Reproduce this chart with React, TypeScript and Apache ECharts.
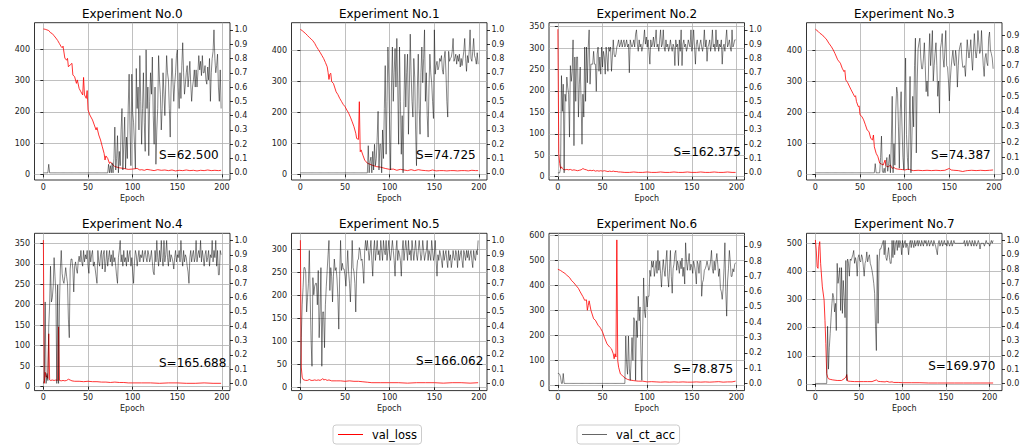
import { useEffect, useRef } from "react";
import * as echarts from "echarts";

const TITLES = [
  "Experiment No.0", "Experiment No.1", "Experiment No.2", "Experiment No.3",
  "Experiment No.4", "Experiment No.5", "Experiment No.6", "Experiment No.7",
];
const SCORES = ["S=62.500", "S=74.725", "S=162.375", "S=74.387", "S=165.688", "S=166.062", "S=78.875", "S=169.970"];
const SCORE_AT = [130, 50];

const X_TICKS = [0, 50, 100, 150, 200];
const LOSS_TICKS = [
  [0, 100, 200, 300, 400],
  [0, 100, 200, 300, 400],
  [0, 50, 100, 150, 200, 250, 300, 350],
  [0, 100, 200, 300, 400],
  [0, 50, 100, 150, 200, 250, 300, 350],
  [0, 50, 100, 150, 200, 250, 300],
  [0, 100, 200, 300, 400, 500, 600],
  [0, 100, 200, 300, 400, 500],
];
const ACC_TICKS_10 = [0, 0.1, 0.2, 0.3, 0.4, 0.5, 0.6, 0.7, 0.8, 0.9, 1.0];
const ACC_TICKS_09 = [0, 0.1, 0.2, 0.3, 0.4, 0.5, 0.6, 0.7, 0.8, 0.9];
const ACC_TICKS = [ACC_TICKS_10, ACC_TICKS_10, ACC_TICKS_10, ACC_TICKS_09, ACC_TICKS_10, ACC_TICKS_10, ACC_TICKS_09, ACC_TICKS_10];

const X_RANGE = [
  [-9.95, 208.95], [-9.95, 208.95], [-9.95, 208.95], [-9.95, 208.95],
  [-9.95, 208.95], [-9.95, 208.95], [-9.95, 208.95], [-10.2, 214.2],
];
const LOSS_RANGE = [
  [-18, 485], [-18.4, 490.6], [-7.7, 359.3], [-18.4, 490],
  [-9.8, 374.5], [-7.2, 335], [-23, 609.6], [-24, 535.7],
];
const ACC_RANGE = [
  [-0.05, 1.05], [-0.05, 1.05], [-0.05, 1.05], [-0.047, 0.981],
  [-0.05, 1.05], [-0.05, 1.05], [-0.047, 0.982], [-0.05, 1.05],
];

// val_loss: [epoch, value]
const LOSS_0 = [[0,465],[2,464],[4,462],[6,460],[8,453],[10,450],[12,443],[14,436],[16,428],[18,418],[20,408],[21,405],[22,410],[24,372],[26,365],[27,371],[28,344],[30,350],[32,355],[33,318],[35,312],[37,291],[38,302],[40,275],[42,264],[44,254],[45,310],[46,254],[48,243],[49,268],[50,206],[52,190],[55,174],[57,158],[59,142],[60,150],[62,126],[64,110],[66,88],[68,67],[69,46],[70,59],[72,51],[74,35],[75,40],[78,30],[80,25],[85,21],[90,19],[95,16],[100,17],[105,19],[108,14],[110,15],[113,13],[116,16],[120,14],[124,12],[128,15],[132,13],[136,14],[140,12],[144,14],[148,11],[152,13],[156,12],[160,14],[164,12],[168,13],[172,11],[176,13],[180,12],[184,14],[188,12],[192,13],[196,12],[199,13]];
const LOSS_1 = [[0,469],[2,465],[4,460],[6,455],[8,449],[10,443],[12,438],[14,432],[16,424],[18,413],[20,404],[22,395],[24,385],[26,375],[28,362],[30,348],[31,330],[32,307],[33,324],[34,327],[35,300],[37,294],[40,267],[42,258],[44,246],[46,236],[48,226],[50,219],[52,208],[54,198],[56,185],[58,170],[60,154],[62,133],[63,116],[65,113],[66,235],[67,73],[68,79],[70,62],[72,46],[75,36],[80,30],[85,25],[90,23],[95,19],[100,16],[104,17],[108,13],[112,16],[116,14],[120,12],[124,15],[128,12],[132,15],[136,13],[140,12],[144,11],[148,14],[152,11],[156,12],[160,12],[164,11],[168,12],[172,12],[176,11],[180,12],[184,12],[188,11],[192,13],[196,12],[199,12]];
const LOSS_2 = [[0,344],[1,54],[2,31],[3,19],[4,23],[5,19],[6,17],[8,16],[10,17],[12,16],[14,17],[16,15],[18,16],[20,15],[22,14],[24,15],[26,16],[28,19],[30,17],[32,16],[34,14],[36,15],[38,14],[40,15],[42,13],[44,14],[46,13],[48,14],[50,13],[52,14],[54,13],[56,12],[58,13],[60,12],[62,13],[64,12],[66,12],[68,11],[70,11],[75,10],[80,10],[85,11],[90,10],[95,10],[100,11],[105,10],[110,10],[115,11],[120,10],[125,10],[130,11],[135,10],[140,10],[145,11],[150,10],[155,10],[160,11],[165,10],[170,10],[175,11],[180,10],[185,10],[190,11],[195,10],[199,10]];
const LOSS_3 = [[0,469],[3,462],[5,456],[8,450],[10,443],[12,438],[15,424],[18,412],[20,402],[22,390],[25,370],[28,359],[30,343],[32,332],[33,336],[34,305],[36,297],[38,285],[40,273],[42,262],[44,251],[45,254],[46,235],[48,219],[49,221],[50,192],[52,187],[54,176],[56,160],[58,143],[60,138],[62,116],[64,111],[65,127],[66,89],[68,68],[70,57],[72,36],[74,33],[76,30],[78,46],[79,28],[80,25],[82,25],[84,30],[86,19],[88,22],[90,18],[92,17],[95,16],[98,15],[100,14],[103,16],[105,16],[108,13],[110,12],[115,13],[120,12],[125,13],[130,12],[135,13],[140,12],[145,13],[150,19],[152,14],[155,13],[160,12],[165,9],[168,11],[170,12],[175,13],[180,12],[185,13],[190,12],[195,13],[199,14]];
const LOSS_4 = [[0,358],[1,8],[2,35],[3,23],[4,27],[5,20],[6,129],[7,16],[8,15],[10,16],[12,15],[14,16],[16,15],[17,146],[18,15],[20,14],[22,15],[24,14],[26,15],[28,18],[30,16],[32,14],[35,13],[40,13],[45,12],[50,13],[55,12],[60,12],[65,11],[70,11],[75,10],[80,11],[85,10],[90,10],[95,9],[100,9],[110,9],[120,9],[130,8],[140,9],[150,9],[160,8],[170,8],[180,9],[190,8],[199,8]];
const LOSS_5 = [[0,320],[1,44],[2,22],[3,17],[4,16],[6,15],[8,15],[10,17],[12,15],[14,15],[16,16],[18,15],[20,16],[22,15],[24,17],[25,19],[26,16],[28,17],[30,15],[32,16],[35,14],[40,14],[45,14],[50,13],[55,14],[60,13],[65,13],[70,12],[75,11],[80,10],[90,10],[100,10],[110,10],[120,9],[130,10],[140,10],[150,10],[160,9],[170,10],[180,10],[190,9],[199,10]];
const LOSS_6 = [[0,465],[3,460],[5,455],[8,448],[10,441],[13,432],[15,421],[18,410],[20,401],[23,388],[25,374],[28,355],[30,340],[32,342],[33,300],[34,320],[35,338],[37,300],[40,266],[42,260],[45,240],[47,232],[48,226],[50,213],[52,192],[55,165],[58,152],[60,145],[62,125],[63,105],[64,125],[65,112],[66,583],[67,98],[68,71],[70,44],[72,38],[75,28],[78,22],[80,20],[85,17],[90,15],[95,15],[100,12],[105,13],[110,12],[115,11],[120,12],[125,11],[130,12],[135,11],[140,12],[145,11],[150,11],[155,12],[160,11],[165,12],[170,11],[175,12],[180,13],[185,11],[190,12],[195,12],[199,15]];
const LOSS_7 = [[0,512],[1,476],[2,417],[3,411],[4,488],[5,506],[6,429],[8,345],[10,298],[11,226],[12,143],[13,36],[14,24],[15,18],[17,16],[20,14],[25,12],[30,12],[33,18],[35,24],[36,33],[37,10],[40,9],[45,8],[50,8],[55,8],[60,8],[65,8],[70,14],[72,9],[75,8],[80,7],[82,9],[85,6],[88,7],[90,5],[95,5],[100,4],[110,4],[120,4],[130,3],[140,3],[150,3],[160,3],[170,3],[180,3],[190,3],[204,3]];

// val_ct_acc: one value per epoch, starting at epoch 0
const ACC_0 = [
  0,0,0,0,0,0,0.06,0,0,0,
  0,0,0,0,0,0,0,0,0,0,
  0,0,0,0,0,0,0,0,0,0,
  0,0,0,0,0,0,0,0,0,0,
  0,0,0,0,0,0,0,0,0,0,
  0,0,0,0,0,0,0,0,0,0,
  0,0,0,0,0,0,0,0,0,0,
  0,0,0,0.06,0,0.05,0,0.07,0,0.1,
  0.32,0.02,0.1,0.26,0,0.15,0.05,0.3,0.45,0.02,
  0.2,0.39,0.03,0.25,0.1,0.46,0.69,0.3,0.05,0.69,
  0.42,0.35,0.2,0.03,0.73,0.45,0.6,0.3,0.82,0.5,
  0.2,0.45,0.7,0.35,0.15,0.86,0.45,0.6,0.12,0.5,
  0.7,0.55,0.81,0.4,0.2,0.6,0.06,0.3,0.45,0.82,
  0.65,0.55,0.3,0.45,0.7,0.55,0.4,0.62,0.82,0.7,
  0.65,0.45,0.25,0.6,0.8,0.65,0.5,0.62,0.7,0.82,
  0.86,0.6,0.45,0.7,0.52,0.75,0.91,0.7,0.55,0.62,
  0.7,0.75,0.6,0.68,0.78,0.62,0.5,0.6,0.65,0.72,
  0.6,0.72,0.6,0.7,0.82,0.72,0.78,0.68,0.82,0.7,
  0.7,0.75,0.65,0.62,0.74,0.65,0.8,0.5,0.7,0.8,
  0.85,1.0,0.8,0.7,0.75,0.83,0.6,0.5,0.72,0.45,
];
const ACC_1 = [
  0,0,0,0,0,0,0,0,0,0,
  0,0,0,0,0,0,0,0,0,0,
  0,0,0,0,0,0,0,0,0,0,
  0,0,0,0,0,0,0,0,0,0,
  0,0,0,0,0,0,0,0,0,0,
  0,0,0,0,0,0,0,0,0,0,
  0,0,0,0,0,0,0,0,0,0,
  0,0,0,0,0,0,0.19,0,0.08,0.11,
  0,0.15,0.02,0.2,0.05,0.1,0.25,0.43,0.02,0.2,
  0.2,0,0.3,0.1,0.45,0.75,0.13,0.5,0.88,0.67,
  0.3,0.02,0.6,0.88,0.5,0.7,0.87,0.6,0.94,0.6,
  0.2,0.88,0.5,0.13,0.4,0,0.5,0.83,0.46,0.7,
  0.83,0.27,0.6,0.97,0.69,0.5,0.39,0.8,0.67,0.3,
  0.05,0.6,0.83,0.45,0.27,0.7,0.88,0.63,0.8,1.0,
  0.5,0.7,0.4,0.25,0.6,0.83,0.7,0.63,0.5,0.38,
  1.0,0.69,0.75,0.78,0.72,0.74,0.8,0.78,0.82,0.72,
  0.69,0.8,0.85,0.7,0.5,0.39,0.85,0.78,0.8,0.81,
  0.85,0.94,0.78,0.8,0.83,0.76,0.82,0.78,0.83,0.74,
  0.8,0.75,0.8,0.85,0.94,0.8,0.71,0.82,0.77,0.85,
  1.0,0.8,0.78,0.85,0.94,0.82,0.8,0.76,0.84,0.76,
];
const ACC_2 = [
  0,0,0,0.03,0.68,0.43,0.62,0,0.55,0.5,
  0.67,0.6,0.55,0.25,0.75,0.64,0.71,0.93,0.19,0.81,
  0.5,0.81,0.81,0.39,0.62,0.74,0.5,0.2,0.55,0.39,
  0.88,0.5,0.88,0.63,0.88,1.0,0.62,0.76,0.76,0.76,
  0.85,0.76,0.76,0.57,0.83,0.88,0.71,0.81,0.69,0.88,
  0.74,0.85,0.81,0.69,0.88,0.81,0.71,0.88,0.85,0.88,
  0.71,0.81,0.93,0.83,0.81,0.83,0.88,0.9,0.93,0.88,
  0.9,0.93,0.88,0.91,0.93,0.88,0.9,0.93,0.88,0.9,
  0.7,0.93,0.9,0.88,0.9,0.93,0.88,0.97,1.0,0.9,
  0.85,0.93,0.88,0.9,0.85,0.88,0.93,1.0,0.9,0.95,
  0.88,0.93,0.85,0.76,0.93,0.88,0.9,0.95,0.88,0.93,
  1.0,0.88,0.9,0.85,0.93,1.0,0.88,0.9,1.0,0.88,
  0.85,0.93,0.88,0.9,0.85,0.88,0.93,0.88,0.85,0.9,
  0.88,0.75,0.93,0.88,0.9,0.75,0.93,0.85,1.0,0.75,
  0.9,0.93,0.88,0.9,0.85,0.88,0.93,0.9,0.88,1.0,
  0.85,0.9,1.0,0.88,0.76,0.9,0.93,0.88,0.85,0.9,
  0.93,0.88,0.85,0.9,1.0,0.88,0.93,0.78,0.88,0.9,
  0.93,0.85,0.9,1.0,0.88,0.9,0.85,1.0,0.88,0.93,
  0.85,0.9,0.88,0.93,0.76,0.88,0.9,0.85,0.93,1.0,
  0.88,0.9,0.93,0.88,0.85,1.0,0.88,0.9,0.93,0.93,
];
const ACC_3 = [
  0,0,0,0,0,0,0,0,0,0,
  0,0,0,0,0,0,0,0,0,0,
  0,0,0,0,0,0,0,0,0,0,
  0,0,0,0,0,0,0,0,0,0,
  0,0,0,0,0,0,0,0,0,0,
  0,0,0,0,0,0,0,0,0,0,
  0,0,0,0,0,0,0,0.06,0,0,
  0,0,0,0.1,0.24,0.01,0,0.03,0,0.05,
  0.1,0.01,0.06,0.12,0,0.2,0.5,0,0.19,0.05,
  0.4,0.56,0.52,0.3,0.03,0.4,0.53,0.3,0.1,0.02,
  0.4,0.75,0.25,0.1,0.02,0.3,0.63,0,0.2,0.5,
  0.3,0.7,0.88,0.13,0.6,0.81,0.85,0.88,0.75,0.68,
  0.68,0.75,0.85,0.7,0.53,0.6,0.5,0.75,0.91,0.7,
  0.8,0.93,0.6,0.7,0.78,0.85,0.7,0.5,0.6,0.39,
  0.81,0.85,0.91,0.75,0.69,0.8,0.93,0.7,0.69,0.6,
  0.47,0.6,0.69,0.75,0.8,0.72,0.7,0.8,0.75,0.56,
  0.7,0.8,0.83,0.85,0.75,0.69,0.69,0.7,0.63,0.75,
  0.87,0.8,0.75,0.8,0.87,0.75,0.67,0.8,0.91,0.8,
  0.75,0.8,0.93,0.85,0.78,0.8,0.93,0.8,0.7,0.63,
  0.75,0.78,0.72,0.7,0.88,0.92,0.8,0.78,0.75,0.68,
];
const ACC_4 = [
  0,0.02,0.57,0,0.07,0.02,0.4,0.55,0.82,0.57,
  0.6,0.68,0.88,0.75,0.62,0,0.69,0,0.55,0.8,
  0.93,0.77,0.72,0.7,0.75,0.81,0.75,0.7,0.45,0.32,
  0.8,0.87,0.87,0.8,0.64,0.82,0.85,0.8,0.77,0.85,
  0.89,0.85,0.93,0.85,0.82,0.93,0.85,0.9,0.87,0.93,
  0.82,0.77,0.93,0.85,0.9,0.93,0.82,0.85,0.8,0.75,
  0.7,0.93,0.85,0.82,0.9,0.93,0.8,0.9,0.93,0.78,
  0.85,0.93,0.82,0.88,0.93,0.85,0.9,0.82,0.93,0.85,
  0.88,0.82,0.75,0.7,0.88,0.93,1.0,0.85,0.9,0.82,
  0.93,0.85,0.88,0.82,0.93,0.85,0.9,0.93,0.82,0.88,
  0.78,0.7,0.85,0.93,0.9,0.82,0.88,0.93,0.85,0.9,
  0.88,0.93,0.85,0.9,0.93,0.88,0.85,0.93,0.9,0.85,
  0.88,0.93,0.85,0.78,0.76,0.93,0.85,1.0,0.88,0.82,
  0.93,0.85,1.0,0.88,0.82,1.0,0.85,0.9,1.0,0.88,
  0.82,0.93,0.85,0.9,0.88,0.85,0.8,0.88,0.93,0.85,
  0.9,0.88,0.93,0.85,1.0,0.88,0.82,0.93,0.85,0.9,
  0.88,0.82,0.78,0.7,0.88,0.93,0.85,0.9,0.93,0.85,
  0.88,1.0,0.85,0.9,0.93,0.88,1.0,0.85,0.93,0.88,
  0.82,0.9,0.93,0.85,0.88,0.93,0.82,0.9,0.88,1.0,
  0.85,0.93,0.88,1.0,0.82,0.93,0.76,0.76,0.93,0.9,
];
const ACC_5 = [
  0,0.32,0.55,0.67,0.81,0.81,0.78,0.5,0.6,0.7,
  0.93,0.6,0.3,0.12,0.74,0.62,0.68,0.7,0.7,0.55,
  0.79,0.32,0.5,0.81,0.12,0.5,0.5,0.25,0.55,0.68,
  0.79,0.9,1.0,0.65,0.81,0.75,0.57,0.75,0.87,0.79,
  0.81,0.73,0.6,0.38,0.75,1.0,0.79,0.84,0.8,0.8,
  0.75,0.68,0.8,0.93,0.78,0.7,0.57,0.75,1.0,0.81,
  0.78,0.7,0.5,0.78,0.86,0.87,0.95,0.93,0.86,0.87,
  0.8,0.7,0.93,1.0,0.93,1.0,0.93,0.86,0.93,1.0,
  0.86,0.75,0.93,1.0,0.86,0.93,1.0,0.9,0.93,0.86,
  1.0,0.93,0.86,1.0,0.93,0.9,1.0,0.86,0.93,1.0,
  0.9,0.86,0.93,1.0,0.93,0.86,0.75,0.93,1.0,0.86,
  0.93,0.9,0.86,0.75,0.93,1.0,0.86,0.93,1.0,0.93,
  0.86,1.0,0.9,0.93,0.86,1.0,0.93,0.86,0.93,1.0,
  0.9,0.86,0.93,1.0,0.93,0.86,0.9,1.0,0.93,0.86,
  0.9,0.93,1.0,0.86,0.93,0.9,0.86,1.0,0.93,0.86,
  0.9,1.0,0.86,0.75,0.9,0.86,0.93,0.9,0.86,0.81,
  0.93,0.86,0.9,0.93,0.86,0.81,0.93,0.86,0.9,0.81,
  0.86,0.93,0.88,0.86,0.93,0.9,0.81,0.93,0.86,0.9,
  0.93,0.86,0.81,0.93,0.9,0.86,0.93,0.88,0.93,0.86,
  0.9,0.93,0.86,0.81,0.93,0.88,0.86,0.93,0.9,1.0,
];
const ACC_6 = [
  0.065,0.065,0.06,0.04,0,0,0.065,0,0,0,
  0,0,0,0,0,0,0,0,0,0,
  0,0,0,0,0,0,0,0,0,0,
  0,0,0,0,0,0,0,0,0,0,
  0,0,0,0,0,0,0,0,0,0,
  0,0,0,0,0,0,0,0,0,0,
  0,0,0,0,0,0,0,0,0,0,
  0,0,0,0,0,0,0.31,0.125,0.06,0.31,
  0.1,0.02,0.15,0.3,0.15,0.43,0.41,0.02,0.41,0.3,
  0.57,0.41,0.5,0.2,0.02,0.35,0.69,0.47,0.43,0.57,
  0.5,0.57,0.57,0.74,0.7,0.8,0.76,0.8,0.7,0.75,
  0.8,0.72,0.87,0.74,0.8,0.72,0.63,0.74,0.81,0.74,
  0.7,0.8,0.87,0.7,0.63,0.75,0.87,0.7,0.59,0.75,
  0.78,0.85,0.87,0.74,0.8,0.77,0.72,0.8,0.75,0.82,
  0.7,0.76,0.65,0.92,0.8,0.74,0.8,0.85,0.74,0.78,
  0.76,0.72,0.8,0.77,0.73,0.65,0.8,0.78,0.72,0.8,
  0.8,0.57,0.66,0.68,0.74,0.75,0.77,0.8,0.77,0.74,
  0.76,0.8,0.87,0.75,0.72,0.8,0.74,0.8,0.85,0.78,
  0.7,0.75,0.62,0.6,0.55,0.62,0.75,0.92,0.6,0.44,
  0.67,0.75,0.87,0.8,0.7,0.7,0.75,0.73,0.78,0.79,
];
const ACC_7 = [
  0,0,0,0,0,0,0,0,0,0,
  0,0,0,0,0.4,0.1,0.25,0.35,0.46,0.56,
  0.63,0.6,0.5,0.56,0.37,0.84,0.7,0.75,0.81,0.51,
  0.81,0.49,0.72,0.6,0.46,0.86,0.02,0.87,0.84,0.75,
  0.87,0.86,0.88,0.9,0.93,0.84,0.88,0.85,0.75,0.88,
  0.9,0.86,0.85,0.9,0.88,0.82,0.75,0.84,0.86,0.92,
  0.85,0.88,0.9,0.84,0.82,0.79,0.75,0.7,0.63,0.4,
  0.23,0.9,0.42,0.85,0.94,0.94,0.96,0.98,1.0,0.9,
  1.0,0.88,0.86,0.9,0.95,0.88,0.84,0.84,1.0,0.88,
  1.0,0.9,0.98,1.0,0.93,1.0,0.95,1.0,0.98,0.9,
  1.0,0.95,0.98,1.0,0.95,0.98,0.96,0.9,0.98,1.0,
  0.95,1.0,0.98,0.95,1.0,0.96,0.98,1.0,0.96,1.0,
  0.98,0.96,1.0,0.98,0.96,1.0,0.98,1.0,0.96,0.98,
  1.0,0.96,0.98,1.0,0.98,0.96,1.0,0.98,0.96,0.93,
  0.9,0.98,1.0,0.96,0.98,1.0,0.96,0.98,1.0,0.97,
  0.98,0.96,1.0,0.98,0.96,0.98,1.0,0.96,0.98,1.0,
  0.98,0.98,0.98,0.98,0.98,0.98,0.98,0.98,0.98,0.98,
  0.98,1.0,0.96,0.98,1.0,0.96,0.98,1.0,0.98,0.96,
  1.0,0.98,0.96,1.0,0.98,0.96,0.98,1.0,0.98,0.94,
  0.98,0.98,0.98,0.98,0.96,0.98,1.0,0.98,0.98,0.98,
  0.96,0.98,1.0,0.98,1.0,
];

const LOSS = [LOSS_0, LOSS_1, LOSS_2, LOSS_3, LOSS_4, LOSS_5, LOSS_6, LOSS_7];
const ACC = [ACC_0, ACC_1, ACC_2, ACC_3, ACC_4, ACC_5, ACC_6, ACC_7];

const FONT = '"DejaVu Sans", sans-serif';
const GRID_LEFT = [34.5, 291.5, 549, 806.5];
const GRID_TOP = [22.7, 233.3];
const GW = 195.5;
const GH = 157.3;
const TITLE_Y = [13.7, 224.3];
const SPINE = "#000";
const GRIDLINE = "#b0b0b0";
const TICK_TEXT = "#222";
const GRAY = "rgba(0,0,0,0.6)";

function buildOption() {
  const grid: any[] = [];
  const xAxis: any[] = [];
  const yAxis: any[] = [];
  const series: any[] = [];
  const graphic: any[] = [];
  for (let i = 0; i < 8; i++) {
    const col = i % 4;
    const row = Math.floor(i / 4);
    grid.push({
      left: GRID_LEFT[col], top: GRID_TOP[row], width: GW, height: GH,
      show: true, borderColor: SPINE, borderWidth: 0.8, backgroundColor: "transparent",
    });
    xAxis.push({
      type: "value", gridIndex: i, min: X_RANGE[i][0], max: X_RANGE[i][1],
      name: "Epoch", nameLocation: "middle", nameGap: 14,
      nameTextStyle: { fontSize: 8, fontFamily: FONT, color: TICK_TEXT },
      axisLine: { show: false },
      axisTick: { show: true, length: 3, customValues: X_TICKS, lineStyle: { color: SPINE, width: 0.8 } },
      axisLabel: { customValues: X_TICKS, margin: 3, fontSize: 8, fontFamily: FONT, color: TICK_TEXT },
      splitLine: { show: true, lineStyle: { color: GRIDLINE, width: 0.8 } },
    });
    yAxis.push({
      type: "value", gridIndex: i, position: "left", min: LOSS_RANGE[i][0], max: LOSS_RANGE[i][1],
      axisLine: { show: false },
      axisTick: { show: true, length: 3, customValues: LOSS_TICKS[i], lineStyle: { color: SPINE, width: 0.8 } },
      axisLabel: { customValues: LOSS_TICKS[i], margin: 4.5, fontSize: 8, fontFamily: FONT, color: TICK_TEXT },
      splitLine: { show: true, lineStyle: { color: GRIDLINE, width: 0.8 } },
    });
    yAxis.push({
      type: "value", gridIndex: i, position: "right", min: ACC_RANGE[i][0], max: ACC_RANGE[i][1],
      axisLine: { show: false },
      axisTick: { show: true, length: 3, customValues: ACC_TICKS[i], lineStyle: { color: SPINE, width: 0.8 } },
      axisLabel: {
        customValues: ACC_TICKS[i], margin: 4.5, fontSize: 8, fontFamily: FONT, color: TICK_TEXT,
        formatter: (v: number) => v.toFixed(1),
      },
      splitLine: { show: false },
    });
    series.push({
      type: "line", name: "val_loss", xAxisIndex: i, yAxisIndex: 2 * i,
      data: LOSS[i], symbol: "none", showSymbol: false, silent: true, z: 2,
      lineStyle: { color: "red", width: 0.8 }, itemStyle: { color: "red" },
      markPoint: {
        symbol: "circle", symbolSize: 1, silent: true,
        itemStyle: { color: "transparent" },
        data: [{ coord: SCORE_AT, value: 0 }],
        label: {
          show: true, formatter: SCORES[i], position: [0, 0], align: "left", verticalAlign: "bottom",
          offset: [0, 3], fontSize: 12, fontFamily: FONT, color: "#000",
        },
      },
    });
    series.push({
      type: "line", name: "val_ct_acc", xAxisIndex: i, yAxisIndex: 2 * i + 1,
      data: ACC[i].map((v, k) => [k, v]), symbol: "none", showSymbol: false, silent: true, z: 3,
      lineStyle: { color: GRAY, width: 0.8 }, itemStyle: { color: GRAY },
    });
    graphic.push({
      type: "text", silent: true,
      x: GRID_LEFT[col] + GW / 2, y: TITLE_Y[row],
      style: { text: TITLES[i], fontSize: 12, fontFamily: FONT, fill: "#000", align: "center", verticalAlign: "middle" },
    });
  }
  const legendBase = {
    top: 425, orient: "horizontal", padding: [3.5, 4.5, 3.5, 4.5], itemWidth: 25, itemHeight: 14,
    borderColor: "#cccccc", borderWidth: 1, borderRadius: 3, backgroundColor: "#fff",
    selectedMode: false,
    itemStyle: { opacity: 0 },
    lineStyle: { width: 1 },
    textStyle: { fontSize: 11.5, fontFamily: FONT, color: "#000", padding: [0, 0, 0, 4] },
  };
  return {
    animation: false,
    backgroundColor: "#fff",
    grid, xAxis, yAxis, series, graphic,
    legend: [
      { ...legendBase, left: 333, data: ["val_loss"] },
      { ...legendBase, left: 577, data: ["val_ct_acc"] },
    ],
  };
}

export default function App() {
  const ref = useRef<HTMLDivElement>(null);
  useEffect(() => {
    document.body.style.margin = "0";
    const chart = echarts.init(ref.current as HTMLDivElement, null, { renderer: "svg" });
    chart.setOption(buildOption() as any);
    return () => chart.dispose();
  }, []);
  return (
    <div
      ref={ref}
      style={{ position: "fixed", left: 0, top: 0, width: 1029, height: 447, background: "#fff" }}
    />
  );
}
